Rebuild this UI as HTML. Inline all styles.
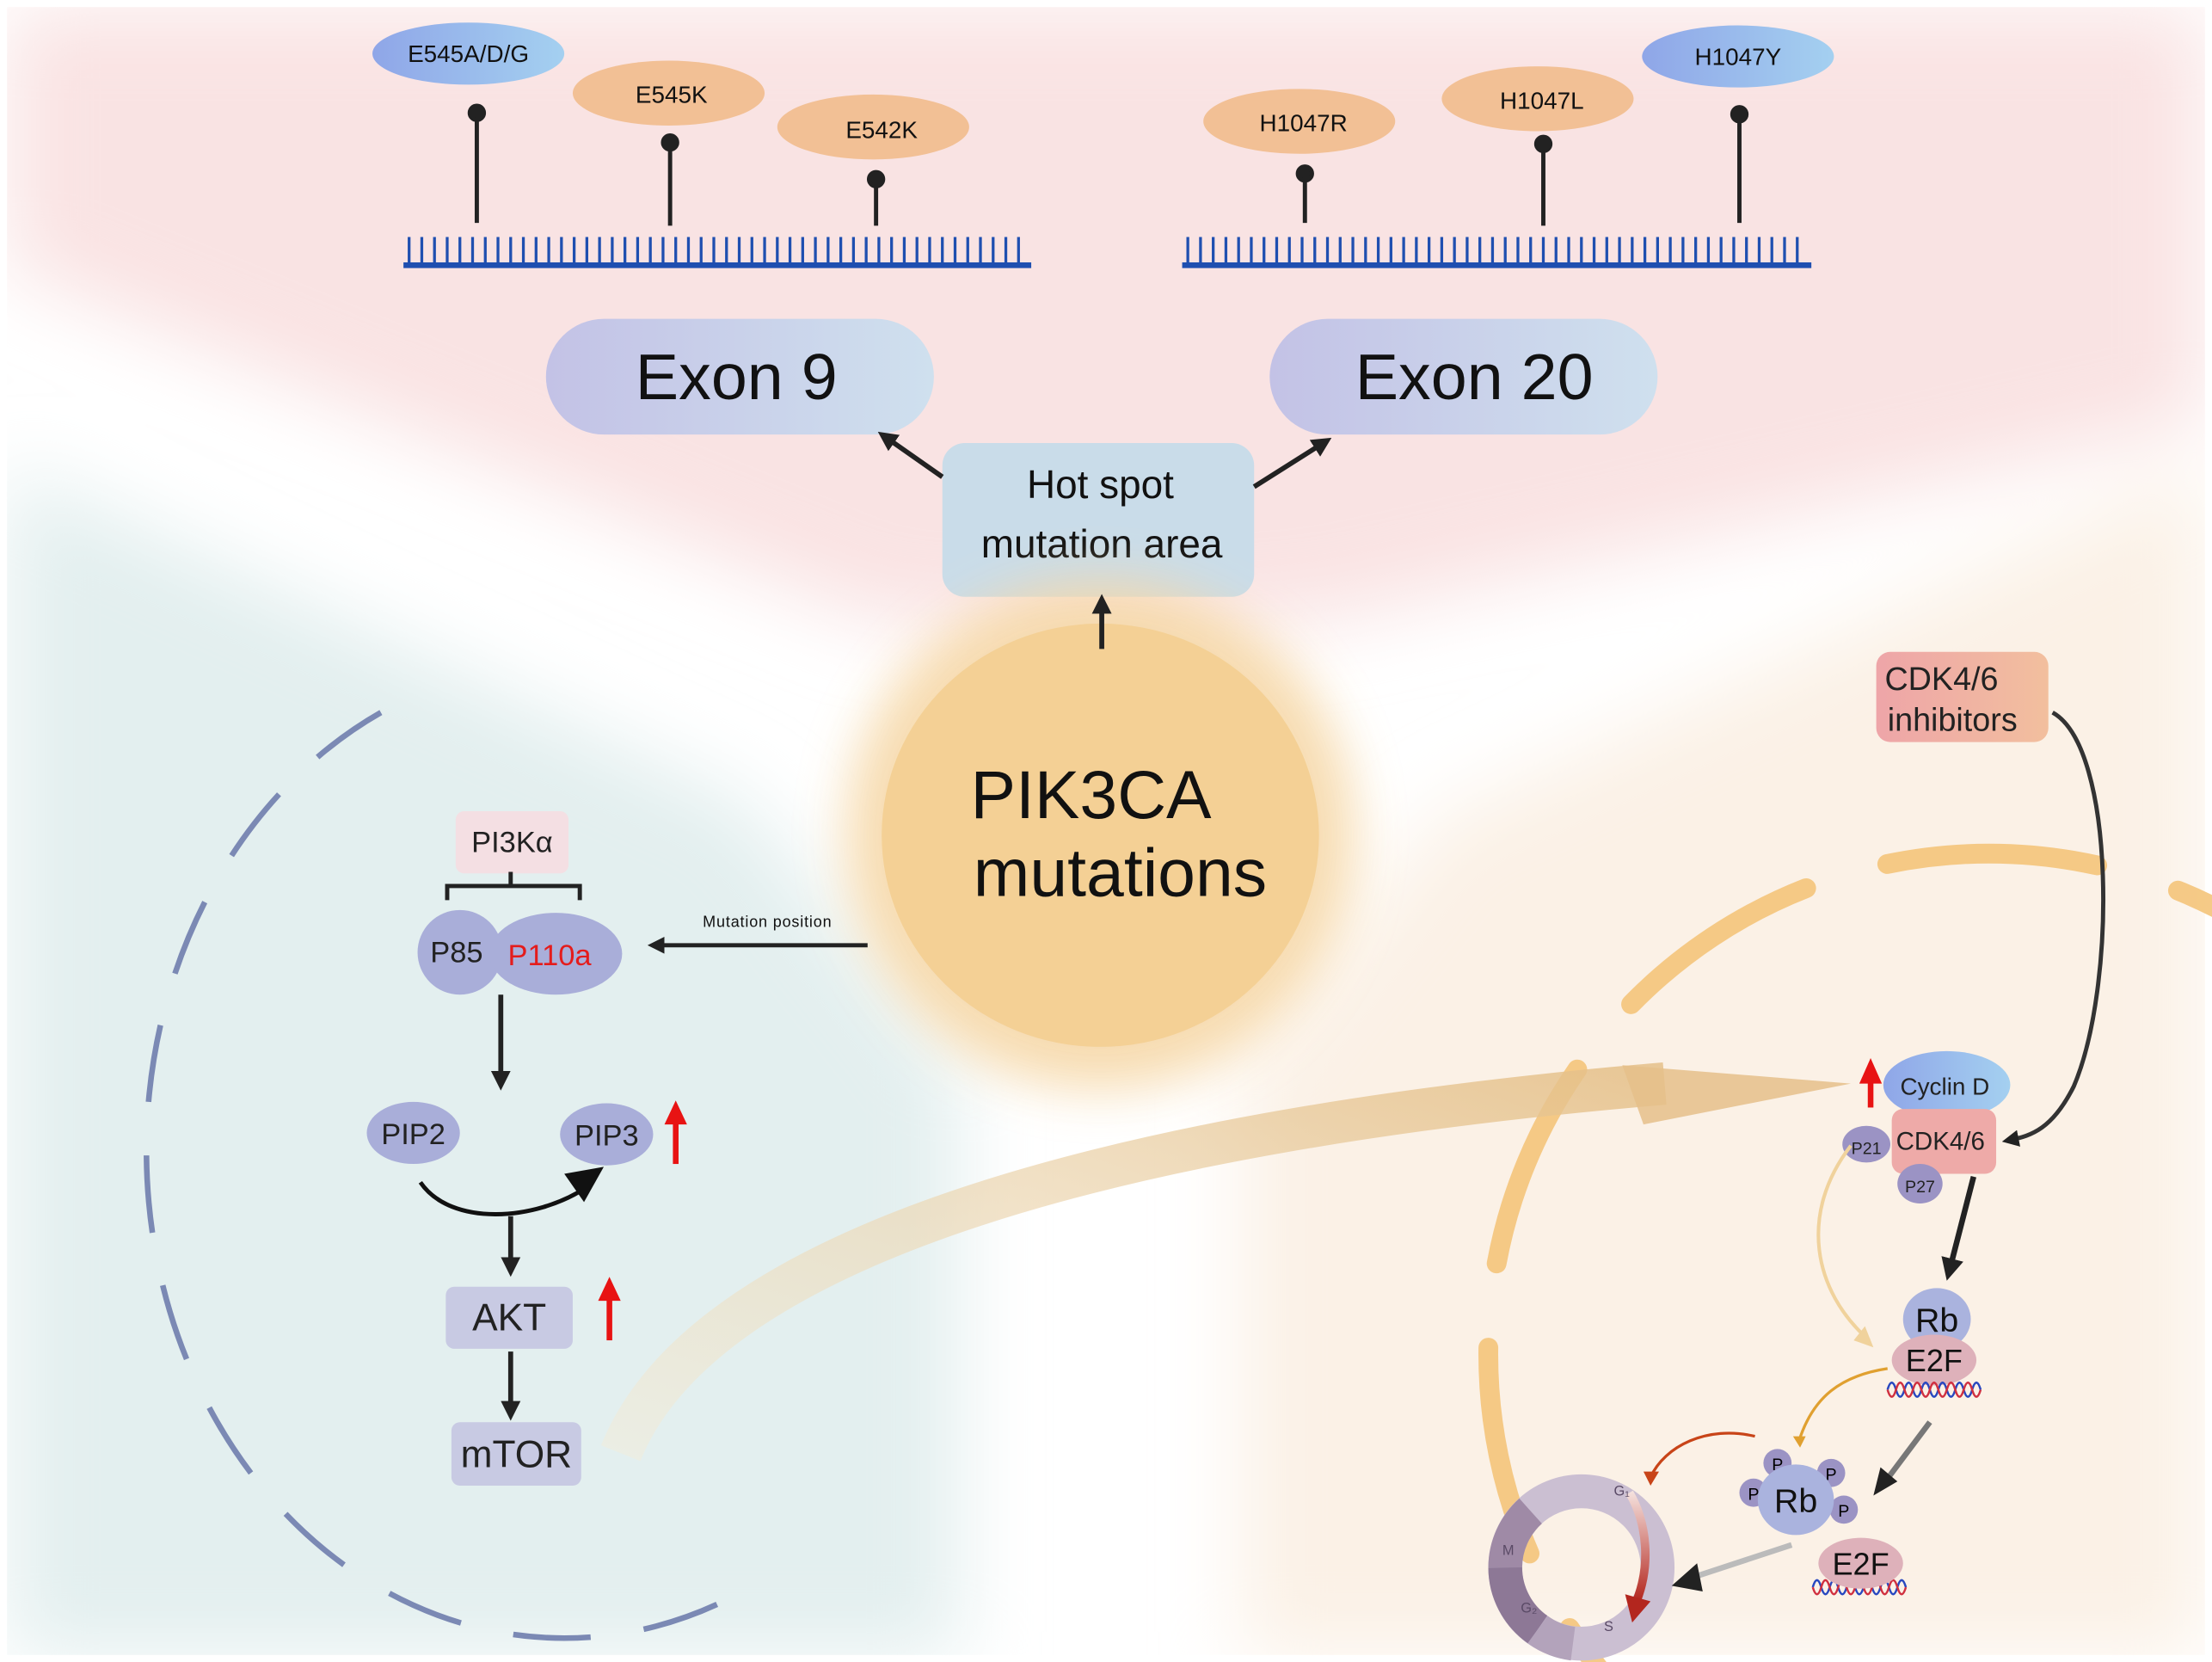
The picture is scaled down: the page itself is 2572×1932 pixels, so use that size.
<!DOCTYPE html>
<html><head><meta charset="utf-8"><style>html,body{margin:0;padding:0;background:#fff;overflow:hidden;width:2572px;height:1932px}svg{display:block}</style></head><body>
<svg width="2572" height="1932" viewBox="0 0 1568 1178" preserveAspectRatio="none" xmlns="http://www.w3.org/2000/svg" font-family="Liberation Sans, sans-serif">
<defs>
<filter id="b" x="-20%" y="-20%" width="140%" height="140%"><feGaussianBlur stdDeviation="28"/></filter>
<filter id="b2" x="-50%" y="-50%" width="200%" height="200%"><feGaussianBlur stdDeviation="18"/></filter>
<linearGradient id="blue" x1="0" x2="1"><stop offset="0" stop-color="#8fa6e8"/><stop offset="1" stop-color="#a4d0f0"/></linearGradient>
<linearGradient id="exon" x1="0" x2="1"><stop offset="0" stop-color="#c3c2e6"/><stop offset="1" stop-color="#cfe0ee"/></linearGradient>
<linearGradient id="pink" x1="0" x2="1"><stop offset="0" stop-color="#eea5a8"/><stop offset="1" stop-color="#f2bf9e"/></linearGradient>
<linearGradient id="tan" x1="0" x2="1" y1="1" y2="0"><stop offset="0" stop-color="#f3ecd9" stop-opacity="0.6"/><stop offset="1" stop-color="#e5c089"/></linearGradient>
<linearGradient id="redg" x1="0" x2="0" y1="0" y2="1"><stop offset="0" stop-color="#f4e0dc"/><stop offset="1" stop-color="#b3261e"/></linearGradient>
<marker id="ah" viewBox="0 0 10 10" refX="5" refY="5" markerWidth="4" markerHeight="4" orient="auto"><path d="M0,0 L10,5 L0,10z" fill="#222"/></marker>
</defs>
<rect x="0" y="0" width="1568" height="1178" fill="#fff"/>
<g filter="url(#b)">
<polygon points="5,5 1563,5 1563,300 940,440 780,450 620,440 5,190" fill="#f9e3e3"/>
<polygon points="5,330 530,570 680,760 680,1175 5,1175" fill="#e3efef"/>
<polygon points="1563,330 1020,580 880,760 880,1175 1563,1175" fill="#fbf1e6"/>
</g>
<rect x="0" y="0" width="1568" height="1178" fill="none" stroke="#fff" stroke-width="10"/>
<g stroke="#1f4fb0" stroke-width="2">
<line x1="286" y1="188" x2="731" y2="188" stroke-width="4"/>
<line x1="838" y1="188" x2="1284" y2="188" stroke-width="4"/>
<path d="M290,188V168M299,188V168M308,188V168M317,188V168M326,188V168M335,188V168M344,188V168M353,188V168M362,188V168M371,188V168M380,188V168M389,188V168M398,188V168M407,188V168M416,188V168M425,188V168M434,188V168M443,188V168M452,188V168M461,188V168M470,188V168M479,188V168M488,188V168M497,188V168M506,188V168M515,188V168M524,188V168M533,188V168M542,188V168M551,188V168M560,188V168M569,188V168M578,188V168M587,188V168M596,188V168M605,188V168M614,188V168M623,188V168M632,188V168M641,188V168M650,188V168M659,188V168M668,188V168M677,188V168M686,188V168M695,188V168M704,188V168M713,188V168M722,188V168"/>
<path d="M842,188V168M851,188V168M860,188V168M869,188V168M878,188V168M887,188V168M896,188V168M905,188V168M914,188V168M923,188V168M932,188V168M941,188V168M950,188V168M959,188V168M968,188V168M977,188V168M986,188V168M995,188V168M1004,188V168M1013,188V168M1022,188V168M1031,188V168M1040,188V168M1049,188V168M1058,188V168M1067,188V168M1076,188V168M1085,188V168M1094,188V168M1103,188V168M1112,188V168M1121,188V168M1130,188V168M1139,188V168M1148,188V168M1157,188V168M1166,188V168M1175,188V168M1184,188V168M1193,188V168M1202,188V168M1211,188V168M1220,188V168M1229,188V168M1238,188V168M1247,188V168M1256,188V168M1265,188V168M1274,188V168"/>
</g>
<g stroke="#222" stroke-width="3" fill="#222">
<line x1="338" y1="80" x2="338" y2="158"/><circle cx="338" cy="80" r="5"/>
<line x1="475" y1="101" x2="475" y2="160"/><circle cx="475" cy="101" r="5"/>
<line x1="621" y1="127" x2="621" y2="160"/><circle cx="621" cy="127" r="5"/>
<line x1="925" y1="123" x2="925" y2="158"/><circle cx="925" cy="123" r="5"/>
<line x1="1094" y1="102" x2="1094" y2="160"/><circle cx="1094" cy="102" r="5"/>
<line x1="1233" y1="81" x2="1233" y2="158"/><circle cx="1233" cy="81" r="5"/>
</g>
<g font-size="17" text-anchor="middle" fill="#111">
<ellipse cx="332" cy="38" rx="68" ry="22" fill="url(#blue)"/><text x="332" y="44">E545A/D/G</text>
<ellipse cx="474" cy="66" rx="68" ry="23" fill="#f2c095"/><text x="476" y="73">E545K</text>
<ellipse cx="619" cy="90" rx="68" ry="23" fill="#f2c095"/><text x="625" y="98">E542K</text>
<ellipse cx="921" cy="86" rx="68" ry="23" fill="#f2c095"/><text x="924" y="93">H1047R</text>
<ellipse cx="1090" cy="70" rx="68" ry="23" fill="#f2c095"/><text x="1093" y="77">H1047L</text>
<ellipse cx="1232" cy="40" rx="68" ry="22" fill="url(#blue)"/><text x="1232" y="46">H1047Y</text>
</g>
<rect x="387" y="226" width="275" height="82" rx="41" fill="url(#exon)"/>
<text x="522" y="283" font-size="46" text-anchor="middle" fill="#111">Exon 9</text>
<rect x="900" y="226" width="275" height="82" rx="41" fill="url(#exon)"/>
<text x="1045" y="283" font-size="46" text-anchor="middle" fill="#111">Exon 20</text>
<rect x="668" y="314" width="221" height="109" rx="16" fill="#c9dce9"/>
<text x="780" y="353" font-size="28" text-anchor="middle" fill="#111">Hot spot</text>
<text x="781" y="395" font-size="28" text-anchor="middle" fill="#111">mutation area</text>
<circle cx="780" cy="592" r="180" fill="#f6d8a8" filter="url(#b2)" opacity="0.9"/>
<ellipse cx="780" cy="592" rx="155" ry="150" fill="#f4d095"/>
<g stroke="#222" stroke-width="3.5" marker-end="url(#ah)">
<line x1="668" y1="338" x2="628" y2="310"/>
<line x1="889" y1="345" x2="938" y2="314"/>
<line x1="781" y1="460" x2="781" y2="428"/>
</g>
<text x="688" y="580" font-size="48" fill="#111">PIK3CA</text>
<text x="690" y="635" font-size="48" fill="#111">mutations</text>
<path d="M270,505 A270,315 0 1 0 530,1126" fill="none" stroke="#7b89b4" stroke-width="4" stroke-dasharray="55 38"/>
<rect x="323" y="575" width="80" height="44" rx="6" fill="#f4dfe3"/>
<text x="363" y="604" font-size="21" text-anchor="middle" fill="#222">PI3Kα</text>
<path d="M317,638 V628 H411 V638 M362,618 V628" fill="none" stroke="#222" stroke-width="3"/>
<ellipse cx="326" cy="675" rx="30" ry="30" fill="#a9aed9"/>
<ellipse cx="394" cy="676" rx="47" ry="29" fill="#a9aed9"/>
<text x="305" y="682" font-size="21" fill="#222">P85</text>
<text x="360" y="684" font-size="21" fill="#e41c1c">P110a</text>
<line x1="615" y1="670" x2="465" y2="670" stroke="#222" stroke-width="3" marker-end="url(#ah)"/>
<text x="544" y="657" font-size="11" text-anchor="middle" fill="#111" letter-spacing="0.5">Mutation position</text>
<g stroke="#222" stroke-width="3.5" marker-end="url(#ah)">
<line x1="355" y1="705" x2="355" y2="766"/>
<line x1="362" y1="862" x2="362" y2="898"/>
<line x1="362" y1="958" x2="362" y2="1000"/>
</g>
<ellipse cx="293" cy="803" rx="33" ry="22" fill="#a9aed9"/><text x="293" y="811" font-size="21" text-anchor="middle" fill="#222">PIP2</text>
<ellipse cx="430" cy="804" rx="33" ry="22" fill="#a9aed9"/><text x="430" y="812" font-size="21" text-anchor="middle" fill="#222">PIP3</text>
<path d="M298,838 C320,870 380,865 415,842" fill="none" stroke="#111" stroke-width="3"/>
<path d="M400,832 L428,827 L414,852 Z" fill="#111"/>
<rect x="316" y="912" width="90" height="44" rx="6" fill="#c8cae3"/><text x="361" y="943" font-size="27" text-anchor="middle" fill="#222">AKT</text>
<rect x="320" y="1008" width="92" height="45" rx="6" fill="#c8cae3"/><text x="366" y="1040" font-size="27" text-anchor="middle" fill="#222">mTOR</text>
<g fill="#e81313">
<rect x="477" y="795" width="4" height="30"/><path d="M471,797 L479,780 L487,797Z"/>
<rect x="430" y="920" width="4" height="30"/><path d="M424,922 L432,905 L440,922Z"/>
<rect x="1324" y="765" width="4" height="20"/><path d="M1318,768 L1326,750 L1334,768Z"/>
</g>
<circle cx="1410" cy="960" r="355" fill="none" stroke="#f4c47a" stroke-width="14" stroke-linecap="round" stroke-dasharray="150 60" stroke-dashoffset="80" opacity="0.9"/>
<path d="M440,1030 C500,880 800,800 1180,768" fill="none" stroke="url(#tan)" stroke-width="30" opacity="0.85"/>
<path d="M1150,755 L1312,768 L1165,797 Z" fill="#e5c089" opacity="0.85"/>
<rect x="1330" y="462" width="122" height="64" rx="10" fill="url(#pink)"/>
<text x="1336" y="489" font-size="23" fill="#222">CDK4/6</text>
<text x="1338" y="518" font-size="23" fill="#222">inhibitors</text>
<path d="M1455,505 C1500,530 1500,700 1470,770 C1455,800 1440,805 1425,808" fill="none" stroke="#333" stroke-width="3" marker-end="url(#ah)"/>
<ellipse cx="1380" cy="769" rx="45" ry="24" fill="url(#blue)"/><text x="1347" y="776" font-size="17" fill="#222">Cyclin D</text>
<rect x="1341" y="786" width="74" height="46" rx="8" fill="#eeaaa8"/><text x="1344" y="815" font-size="18" fill="#222">CDK4/6</text>
<ellipse cx="1323" cy="811" rx="17" ry="13" fill="#9b93c4"/><text x="1323" y="818" font-size="12" text-anchor="middle" fill="#222">P21</text>
<ellipse cx="1361" cy="839" rx="16" ry="14" fill="#9b93c4"/><text x="1361" y="845" font-size="12" text-anchor="middle" fill="#222">P27</text>
<path d="M1312,812 C1275,860 1285,915 1325,950" fill="none" stroke="#f0d29c" stroke-width="2.5"/>
<path d="M1328,955 L1314,950 L1322,940Z" fill="#f0d29c"/>
<line x1="1399" y1="834" x2="1382" y2="900" stroke="#222" stroke-width="4" marker-end="url(#ah)"/>
<ellipse cx="1373" cy="935" rx="24" ry="22" fill="#aab3de"/><text x="1373" y="944" font-size="24" text-anchor="middle" fill="#111">Rb</text>
<ellipse cx="1371" cy="964" rx="30" ry="18" fill="#deb1ba"/><text x="1371" y="972" font-size="22" text-anchor="middle" fill="#111">E2F</text>
<path d="M1338,985 q3,-10 6,0 t6,0 t6,0 t6,0 t6,0 t6,0 t6,0 t6,0 t6,0 t6,0 t6,0" fill="none" stroke="#2848c0" stroke-width="1.5"/>
<path d="M1338,985 q3,10 6,0 t6,0 t6,0 t6,0 t6,0 t6,0 t6,0 t6,0 t6,0 t6,0 t6,0" fill="none" stroke="#d03040" stroke-width="1.5"/>
<path d="M1285,1125 q3,-10 6,0 t6,0 t6,0 t6,0 t6,0 t6,0 t6,0 t6,0 t6,0 t6,0 t6,0" fill="none" stroke="#2848c0" stroke-width="1.5"/>
<path d="M1285,1125 q3,10 6,0 t6,0 t6,0 t6,0 t6,0 t6,0 t6,0 t6,0 t6,0 t6,0 t6,0" fill="none" stroke="#d03040" stroke-width="1.5"/>
<path d="M1338,970 C1305,975 1285,990 1275,1022" fill="none" stroke="#e0a030" stroke-width="2"/>
<path d="M1271,1018 L1276,1026 L1280,1018Z" fill="#e0a030"/>
<line x1="1368" y1="1008" x2="1338" y2="1048" stroke="#777" stroke-width="4"/>
<path d="M1328,1060 L1333,1040 L1345,1050Z" fill="#222"/>
<path d="M1244,1018 C1210,1010 1180,1025 1170,1047" fill="none" stroke="#c84418" stroke-width="2"/>
<path d="M1165,1043 L1170,1053 L1176,1043Z" fill="#c84418"/>
<circle cx="1121" cy="1111" r="54" fill="none" stroke="#cbbfd2" stroke-width="24"/>
<path d="M1067,1111 A54,54 0 0 1 1085,1071" fill="none" stroke="#9f8aa6" stroke-width="24"/>
<path d="M1067,1111 A54,54 0 0 0 1090,1155" fill="none" stroke="#8d7896" stroke-width="24"/>
<path d="M1090,1155 A54,54 0 0 0 1115,1165" fill="none" stroke="#b3a3bb" stroke-width="24"/>
<path d="M1155,1058 C1168,1080 1170,1110 1160,1135" fill="none" stroke="url(#redg)" stroke-width="6"/>
<path d="M1152,1130 L1170,1135 L1157,1150Z" fill="#b3261e"/>
<text x="1144" y="1060" font-size="10" fill="#5a4a66">G₁</text>
<text x="1065" y="1102" font-size="10" fill="#5a4a66">M</text>
<text x="1078" y="1143" font-size="10" fill="#5a4a66">G₂</text>
<text x="1137" y="1156" font-size="10" fill="#5a4a66">S</text>
<line x1="1270" y1="1095" x2="1200" y2="1118" stroke="#bbb" stroke-width="4"/>
<path d="M1185,1124 L1203,1108 L1207,1128Z" fill="#222"/>
<circle cx="1260" cy="1037" r="10" fill="#9b93c4"/><text x="1260" y="1042" font-size="12" text-anchor="middle">P</text>
<circle cx="1298" cy="1044" r="10" fill="#9b93c4"/><text x="1298" y="1049" font-size="12" text-anchor="middle">P</text>
<circle cx="1243" cy="1058" r="10" fill="#9b93c4"/><text x="1243" y="1063" font-size="12" text-anchor="middle">P</text>
<circle cx="1307" cy="1070" r="10" fill="#9b93c4"/><text x="1307" y="1075" font-size="12" text-anchor="middle">P</text>
<ellipse cx="1273" cy="1063" rx="27" ry="25" fill="#aab3de"/><text x="1273" y="1072" font-size="24" text-anchor="middle" fill="#111">Rb</text>
<ellipse cx="1319" cy="1108" rx="30" ry="18" fill="#deb1ba"/><text x="1319" y="1116" font-size="22" text-anchor="middle" fill="#111">E2F</text>
</svg>
</body></html>
